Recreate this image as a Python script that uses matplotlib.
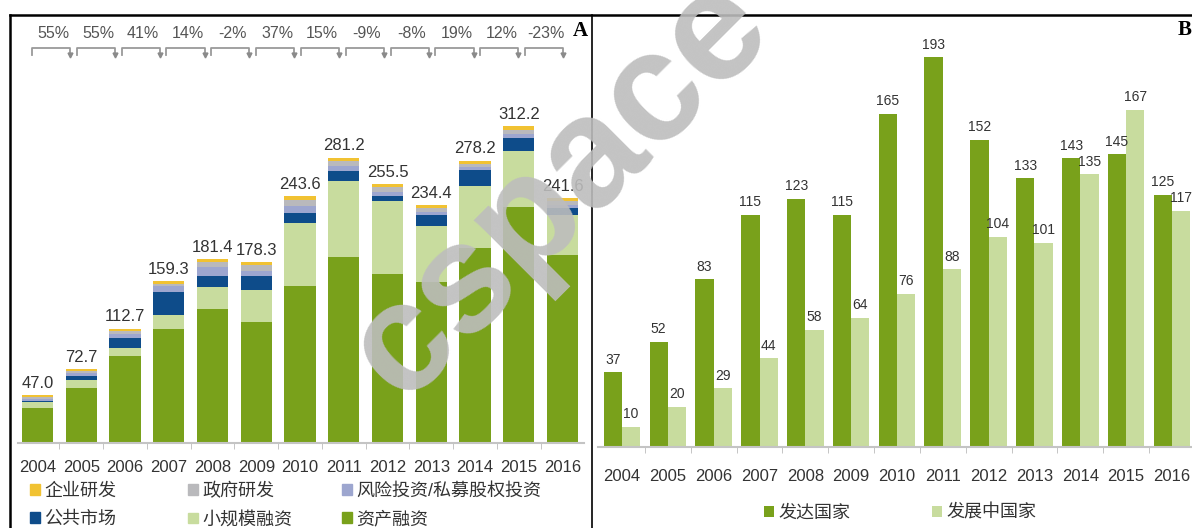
import numpy as np
import matplotlib.pyplot as plt
from matplotlib.lines import Line2D
from matplotlib.patches import Patch

plt.rcParams['font.family'] = ['Liberation Sans', 'Noto Sans CJK SC', 'DejaVu Sans']

years = [str(y) for y in range(2004, 2017)]

# panel A: new investment by asset class, $bn (stacked bottom -> top)
asset_finance = [34.2, 54.0, 85.4, 112.5, 132.0, 119.0, 154.4, 183.0, 166.8, 158.6, 192.1, 232.5, 185.6]
small_scale = [6.5, 8.5, 8.2, 14.0, 22.0, 32.0, 62.3, 74.8, 72.0, 54.9, 60.8, 54.9, 39.4]
public_markets = [0.8, 4.0, 9.5, 22.0, 10.5, 14.0, 10.0, 9.9, 4.9, 10.8, 16.4, 13.1, 6.6]
vc_pe = [2.2, 2.5, 4.3, 6.3, 9.0, 4.5, 6.5, 5.0, 4.0, 3.0, 2.5, 3.5, 3.0]
gov_rd = [1.8, 2.0, 2.6, 2.3, 4.5, 5.5, 6.0, 5.0, 4.8, 4.0, 3.5, 4.5, 4.0]
corp_rd = [1.5, 1.7, 2.7, 2.2, 3.4, 3.3, 4.4, 3.5, 3.0, 3.1, 2.9, 3.7, 3.0]
totals = [47.0, 72.7, 112.7, 159.3, 181.4, 178.3, 243.6, 281.2, 255.5, 234.4, 278.2, 312.2, 241.6]

# panel B: developed vs developing countries, $bn
developed = [37, 52, 83, 115, 123, 115, 165, 193, 152, 133, 143, 145, 125]
developing = [10, 20, 29, 44, 58, 64, 76, 88, 104, 101, 135, 167, 117]

W, H = 1192, 528
dark_green = '#79a11b'
light_green = '#c8dc9e'
txt = '#333333'

fig = plt.figure(figsize=(W / 100, H / 100), dpi=100)

# ---------- panel A ----------
axA = fig.add_axes([17.8 / W, 85 / H, 566.6 / W, 428 / H])
x = np.arange(len(years))
layers = [
    (asset_finance, dark_green, '资产融资'),
    (small_scale, light_green, '小规模融资'),
    (public_markets, '#0e4c8a', '公共市场'),
    (vc_pe, '#9da6cf', '风险投资/私募股权投资'),
    (gov_rd, '#b9b9bc', '政府研发'),
    (corp_rd, '#f1c232', '企业研发'),
]
bottom = np.zeros(len(years))
handles = {}
for vals, col, name in layers:
    axA.bar(x, vals, 0.71, bottom=bottom, color=col, edgecolor='none')
    bottom += np.array(vals)
    handles[name] = Patch(color=col)

for i, t in enumerate(totals):
    axA.annotate(f'{t:.1f}', (x[i], bottom[i]), xytext=(0, 3), textcoords='offset points',
                 ha='center', va='bottom', fontsize=12, color=txt)

# growth brackets
growth = [f'{round((totals[i + 1] / totals[i] - 1) * 100):d}%' for i in range(len(totals) - 1)]
for i, g in enumerate(growth):
    c = 0.31 + 1.0245 * i
    l, r = c - 0.435, c + 0.435
    axA.plot([l, l, r, r], [382, 389, 389, 383], color='#9a9a9a', lw=1.3, clip_on=False)
    axA.plot([r], [382], marker='v', ms=3.5, color='#8a8a8a', clip_on=False)
    axA.text(c + 0.05, 403, g, ha='center', va='center', fontsize=11.5, color='#555555')

axA.set_xlim(-0.45, 12.5)
axA.set_ylim(0, 421.7)
axA.set_xticks(x)
axA.set_xticklabels(years, fontsize=12, color=txt)
axA.set_xticks(x[:-1] + 0.5, minor=True)
axA.tick_params(axis='x', which='major', length=0, pad=12)
axA.tick_params(axis='x', which='minor', length=4, color='#bbbbbb', direction='out')
axA.set_yticks([])
for s in ['top', 'left', 'right']:
    axA.spines[s].set_visible(False)
axA.spines['bottom'].set_color('#c4c4c4')
axA.spines['bottom'].set_linewidth(1.5)
axA.text(580 / W, 1 - 31 / H, 'A', transform=fig.transFigure, ha='center', va='center',
         fontsize=15, fontweight='bold', family='Liberation Serif')

leg_cols = [(['企业研发', '公共市场'], 30), (['政府研发', '小规模融资'], 188), (['风险投资/私募股权投资', '资产融资'], 342)]
for names, px in leg_cols:
    fig.legend([handles[n] for n in names], names, loc='upper left',
               bbox_to_anchor=(px / W, 1 - 483 / H), frameon=False, fontsize=13,
               handlelength=0.55, handleheight=0.55, handletextpad=0.25,
               labelspacing=0.62, borderpad=0, borderaxespad=0, labelcolor=txt)

# ---------- panel B ----------
axB = fig.add_axes([598 / W, 81 / H, 594 / W, 432 / H])
axB.bar(x - 0.2, developed, 0.4, color=dark_green, edgecolor='none', label='发达国家')
axB.bar(x + 0.2, developing, 0.4, color=light_green, edgecolor='none', label='发展中国家')
for i in range(len(years)):
    axB.annotate(str(developed[i]), (x[i] - 0.2, developed[i]), xytext=(0, 4),
                 textcoords='offset points', ha='center', va='bottom', fontsize=10, color=txt)
    axB.annotate(str(developing[i]), (x[i] + 0.2, developing[i]), xytext=(0, 4),
                 textcoords='offset points', ha='center', va='bottom', fontsize=10, color=txt)
axB.set_xlim(-0.524, 12.437)
axB.set_ylim(0, 213.9)
axB.set_xticks(x)
axB.set_xticklabels(years, fontsize=12, color=txt)
axB.set_xticks(x[:-1] + 0.5, minor=True)
axB.tick_params(axis='x', which='major', length=0, pad=16)
axB.tick_params(axis='x', which='minor', length=4, color='#bbbbbb', direction='out')
axB.set_yticks([])
for s in ['top', 'left', 'right']:
    axB.spines[s].set_visible(False)
axB.spines['bottom'].set_color('#c4c4c4')
axB.spines['bottom'].set_linewidth(1.5)
axB.text(1185 / W, 1 - 30 / H, 'B', transform=fig.transFigure, ha='center', va='center',
         fontsize=15, fontweight='bold', family='Liberation Serif')
hB, lB = axB.get_legend_handles_labels()
fig.legend(hB, lB, loc='center left', bbox_to_anchor=(764 / W, 1 - 513 / H), ncol=2,
           frameon=False, fontsize=13, handlelength=0.55, handleheight=0.55,
           handletextpad=0.25, columnspacing=4.5, borderpad=0, borderaxespad=0, labelcolor=txt)

# ---------- frame ----------
fig.add_artist(Line2D([10 / W, 1], [1 - 15 / H] * 2, color='black', lw=1.8, transform=fig.transFigure))
fig.add_artist(Line2D([10 / W] * 2, [0, 1 - 15 / H], color='black', lw=1.8, transform=fig.transFigure))
fig.add_artist(Line2D([592 / W] * 2, [0, 1 - 15 / H], color='black', lw=1.2, transform=fig.transFigure))

# watermark
fig.text(560 / W, 1 - 188 / H, 'cspace', rotation=45, ha='center', va='center', fontsize=112,
         fontweight='bold', color='#bdbdbd', alpha=0.9, zorder=10)

fig.savefig('out.png', dpi=100)
